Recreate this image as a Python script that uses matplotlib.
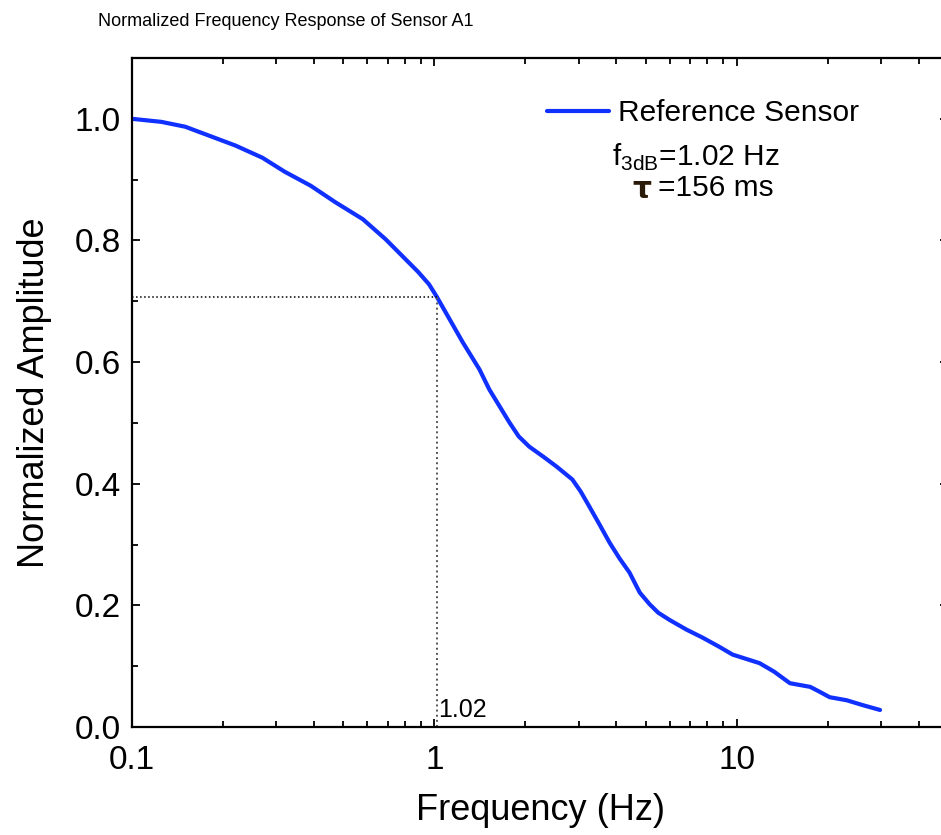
import matplotlib
matplotlib.use("Agg")
import matplotlib.pyplot as plt
from matplotlib.ticker import MultipleLocator, LogLocator, FixedLocator, FixedFormatter

plt.rcParams['font.family'] = ['Liberation Sans', 'DejaVu Sans']
plt.rcParams['mathtext.fontset'] = 'custom'
plt.rcParams['mathtext.rm'] = 'Liberation Sans'

# Frequency response
freq = [0.10, 0.125, 0.15, 0.22, 0.27, 0.32, 0.39, 0.47, 0.58, 0.69, 0.885, 0.96,
        1.02, 1.24, 1.41, 1.52, 1.77, 1.9, 2.06, 2.3, 2.54, 2.86, 3.05, 3.26,
        3.5, 3.80, 4.1, 4.42, 4.78, 5.15, 5.5, 6.0, 6.83, 7.71, 8.75, 9.7,
        11.9, 13.3, 15.0, 17.5, 18.8, 20.3, 23.1, 26.1, 29.8]
amp = [1.000, 0.995, 0.987, 0.956, 0.936, 0.913, 0.890, 0.863, 0.835, 0.802, 0.748, 0.728,
       0.707, 0.633, 0.588, 0.555, 0.501, 0.478, 0.461, 0.444, 0.428, 0.407, 0.387, 0.362,
       0.335, 0.303, 0.277, 0.254, 0.221, 0.202, 0.188, 0.176, 0.160, 0.147, 0.132, 0.119,
       0.105, 0.091, 0.072, 0.066, 0.058, 0.049, 0.044, 0.036, 0.028]

f3db = 1.02
half_power = 0.707
xticks = [0.1, 1, 10]
xticklabels = ["0.1", "1", "10"]

fig = plt.figure(figsize=(9.41, 8.35), dpi=100)
ax = fig.add_axes([132 / 941, 1 - 727 / 835, 816 / 941, 669 / 835])

ax.plot(freq, amp, color='#1030ff', lw=3, label='Reference Sensor',
        solid_capstyle='round', solid_joinstyle='round')

# -3 dB guide lines
ax.plot([0.1, f3db], [half_power, half_power], color='black', ls=':', lw=1.1)
ax.plot([f3db, f3db], [0, half_power], color='#555555', ls=':', lw=1.4)
ax.text(f3db * 1.01, 0.008, "1.02", fontsize=18, ha='left', va='bottom')

ax.set_xscale('log')
ax.set_xlim(0.1, 50)
ax.set_ylim(0, 1.1)
ax.xaxis.set_major_locator(FixedLocator(xticks))
ax.xaxis.set_major_formatter(FixedFormatter(xticklabels))
ax.xaxis.set_minor_locator(LogLocator(base=10, subs=range(2, 10)))
ax.xaxis.set_minor_formatter(plt.NullFormatter())
ax.yaxis.set_major_locator(MultipleLocator(0.2))
ax.yaxis.set_minor_locator(MultipleLocator(0.1))
ax.yaxis.set_major_formatter(plt.FormatStrFormatter('%.1f'))

ax.tick_params(which='both', direction='in', top=True, right=True, width=1.3)
ax.tick_params(which='major', length=6, labelsize=24)
ax.tick_params(axis='x', which='major', pad=13)
ax.tick_params(axis='y', which='major', pad=8)
ax.tick_params(which='minor', length=4)
for s in ax.spines.values():
    s.set_linewidth(1.6)

ax.set_xlabel("Frequency (Hz)", fontsize=26, labelpad=12)
ax.set_ylabel("Normalized Amplitude", fontsize=26, labelpad=16)

leg = ax.legend(loc='upper left', bbox_to_anchor=(0.508, 0.938), frameon=False,
                fontsize=21.5, handlelength=2.1, handletextpad=0.3,
                borderpad=0, borderaxespad=0)
ax.text(0.588, 0.852, r"f$_{\mathregular{3dB}}$=1.02 Hz", transform=ax.transAxes,
        fontsize=21.5, ha='left', va='center')
ax.text(0.613, 0.803, r"$\mathbf{\tau}$", transform=ax.transAxes,
        fontsize=21.5, ha='left', va='center', color='#2a1a0a')
ax.text(0.645, 0.805, "=156 ms", transform=ax.transAxes,
        fontsize=21.5, ha='left', va='center')

fig.text(286 / 941, 1 - 22 / 835, "Normalized Frequency Response of Sensor A1",
         fontsize=13, ha='center', va='center')

fig.savefig("out.png", dpi=100)
